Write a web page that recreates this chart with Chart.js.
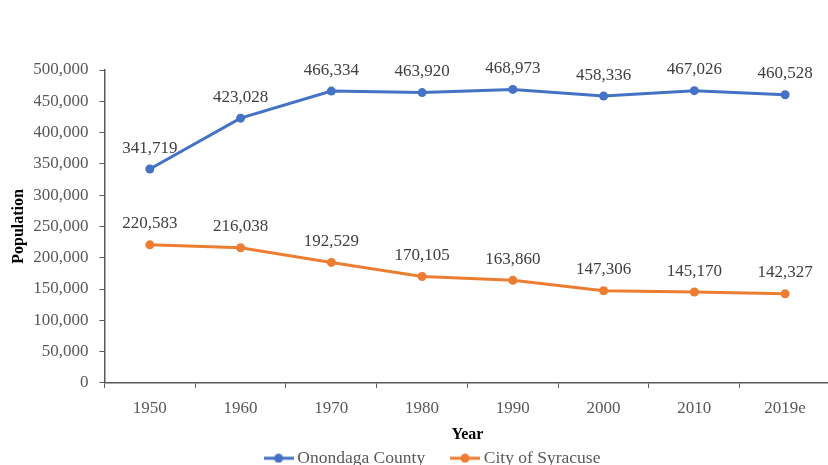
<!DOCTYPE html>
<html>
<head>
<meta charset="utf-8">
<script src="https://cdn.jsdelivr.net/npm/chart.js@4.4.1/dist/chart.umd.min.js"></script>
<style>
  html, body { margin: 0; padding: 0; background: #fff; overflow: hidden; }
  #wrap { width: 835px; height: 465px; }
</style>
</head>
<body>
<div id="wrap"><canvas id="myChart"></canvas></div>
<script>
const years = ["1950", "1960", "1970", "1980", "1990", "2000", "2010", "2019e"];
const onondaga = [341719, 423028, 466334, 463920, 468973, 458336, 467026, 460528];
const syracuse = [220583, 216038, 192529, 170105, 163860, 147306, 145170, 142327];

const blue = "#4472C4";
const orange = "#ED7D31";
const serif = "'Liberation Serif', 'Times New Roman', serif";

// little line+dot marker for the legend
function legendMark(color) {
  const c = document.createElement("canvas");
  c.width = 30;
  c.height = 10;
  const g = c.getContext("2d");
  g.strokeStyle = color;
  g.lineWidth = 3;
  g.beginPath();
  g.moveTo(0, 5);
  g.lineTo(30, 5);
  g.stroke();
  g.fillStyle = color;
  g.beginPath();
  g.arc(15, 5, 4.5, 0, Math.PI * 2);
  g.fill();
  return c;
}

// value labels above each point
const valueLabels = {
  id: "valueLabels",
  afterDatasetsDraw(chart) {
    const ctx = chart.ctx;
    ctx.save();
    ctx.font = "17px " + serif;
    ctx.fillStyle = "#404040";
    ctx.textAlign = "center";
    ctx.textBaseline = "middle";
    chart.data.datasets.forEach(function (ds, di) {
      const meta = chart.getDatasetMeta(di);
      meta.data.forEach(function (pt, i) {
        ctx.fillText(ds.data[i].toLocaleString("en-US"), pt.x, pt.y - 21);
      });
    });
    ctx.restore();
  },
};

const data = {
  labels: years,
  datasets: [
    {
      label: "Onondaga County",
      data: onondaga,
      borderColor: blue,
      backgroundColor: blue,
      borderWidth: 3,
      pointRadius: 4.5,
      pointBackgroundColor: blue,
      pointBorderWidth: 0,
      tension: 0,
    },
    {
      label: "City of Syracuse",
      data: syracuse,
      borderColor: orange,
      backgroundColor: orange,
      borderWidth: 3,
      pointRadius: 4.5,
      pointBackgroundColor: orange,
      pointBorderWidth: 0,
      tension: 0,
    },
  ],
};

const config = {
  type: "line",
  data: data,
  plugins: [valueLabels],
  options: {
    responsive: true,
    maintainAspectRatio: false,
    animation: false,
    layout: { padding: { top: 70, right: 0, left: 34, bottom: -12 } },
    plugins: {
      tooltip: { enabled: false },
      legend: {
        position: "bottom",
        labels: {
          usePointStyle: true,
          pointStyleWidth: 20,
          padding: 8,
          color: "#595959",
          font: { family: serif, size: 17.5 },
          generateLabels: function (chart) {
            const items = Chart.defaults.plugins.legend.labels.generateLabels(chart);
            items.forEach(function (it) {
              it.pointStyle = legendMark(chart.data.datasets[it.datasetIndex].borderColor);
              if (it.datasetIndex === 0) it.text = it.text + "     ";
            });
            return items;
          },
        },
      },
    },
    scales: {
      x: {
        offset: true,
        grid: {
          offset: true,
          drawOnChartArea: false,
          drawTicks: true,
          tickLength: 5,
          tickColor: "#595959",
        },
        border: { color: "#595959", width: 1.5 },
        ticks: { color: "#595959", padding: 10, font: { family: serif, size: 17 } },
        title: {
          display: true,
          text: "Year",
          color: "#000",
          padding: { top: -3, bottom: -3 },
          font: { family: serif, size: 16, weight: "bold" },
        },
      },
      y: {
        min: 0,
        max: 500000,
        grid: {
          drawOnChartArea: false,
          drawTicks: true,
          tickLength: 5,
          tickColor: "#595959",
        },
        border: { color: "#595959", width: 1.5 },
        ticks: {
          stepSize: 50000,
          color: "#595959",
          padding: 11,
          font: { family: serif, size: 17 },
          callback: function (v) {
            return v.toLocaleString("en-US");
          },
        },
        title: {
          display: true,
          text: "Population",
          color: "#000",
          padding: { top: -25, bottom: -6 },
          font: { family: serif, size: 16, weight: "bold" },
        },
      },
    },
  },
};

new Chart(document.getElementById("myChart"), config);
</script>
</body>
</html>
